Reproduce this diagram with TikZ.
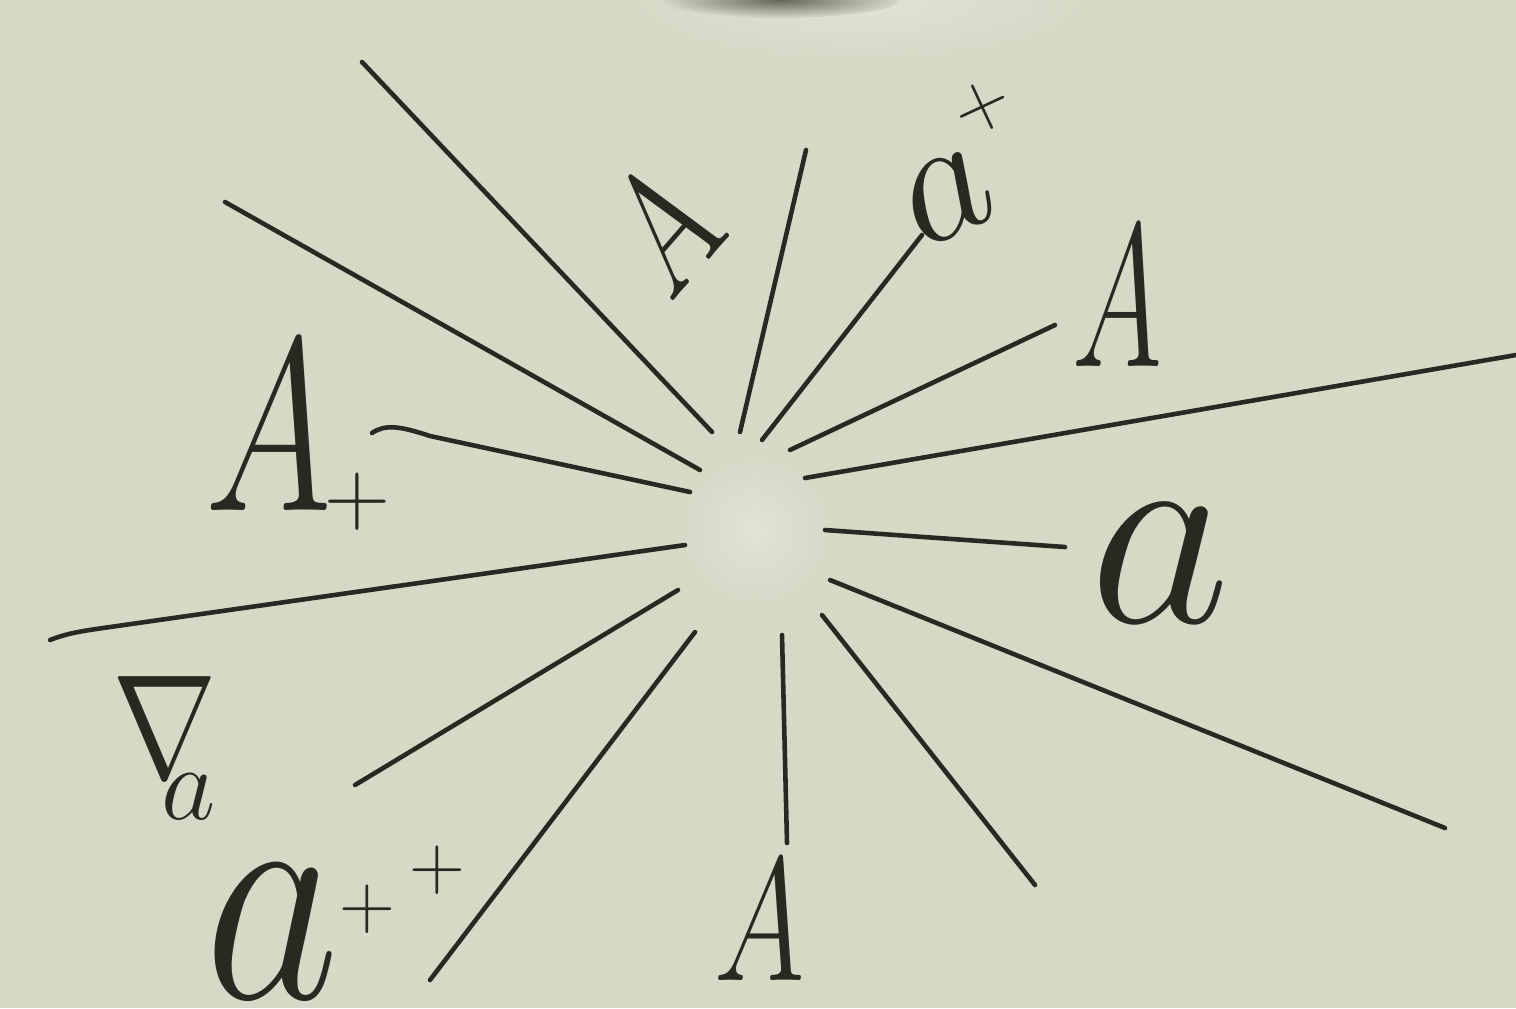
\RequirePackage{fix-cm}
\documentclass[tikz,border=0pt]{standalone}
\usepackage{graphicx}
\usepackage{xcolor}
\definecolor{bg}{RGB}{213,217,198}
\definecolor{bglight}{RGB}{226,228,212}
\definecolor{ink}{RGB}{38,42,32}
\newcommand\fsz[2]{{\fontsize{#1}{#1}\selectfont #2}}
\newcommand\narrowA[2]{\scalebox{#2}[1]{\fsz{#1}{$A$}}}
\begin{document}
\begin{tikzpicture}[x=0.01cm,y=-0.01cm]
\tikzset{
  ray/.style={draw=ink,line width=1.3pt,line cap=round},
  lab/.style={text=ink,inner sep=0pt}
}
\fill[bg] (0,0) rectangle (1516,1008);
\useasboundingbox (0,0) rectangle (1516,1008);
% background marks
\shade[inner color=bglight,outer color=bg] (860,0) ellipse [x radius=230,y radius=60];
\shade[inner color=ink!65!bg,outer color=bg] (780,0) ellipse [x radius=120,y radius=18];
\shade[inner color=bglight,outer color=bg] (755,530) circle [radius=75];
% rays
\draw[ray] (362,62) -- (712,432);
\draw[ray] (225,202) -- (700,470);
\draw[ray] (372,433) .. controls (385,424) and (400,426) .. (430,436) -- (690,492);
\draw[ray] (50,640) .. controls (70,632) and (90,630) .. (110,627) -- (685,545);
\draw[ray] (355,785) -- (678,590);
\draw[ray] (430,980) -- (695,632);
\draw[ray] (782,635) -- (787,843);
\draw[ray] (822,615) -- (1035,885);
\draw[ray] (830,580) -- (1445,828);
\draw[ray] (825,530) -- (1065,547);
\draw[ray] (805,478) -- (1516,355);
\draw[ray] (790,450) -- (1055,325);
\draw[ray] (762,440) -- (922,235);
\draw[ray] (740,432) -- (806,150);
% labels
\node[lab,rotate=49] (A1) at (660,232) {\narrowA{46}{0.8}};
\node[lab,rotate=25] (ap) at (960,162) {\fsz{50}{$a$}\kern-1pt\raisebox{24pt}{\fsz{22}{$+$}}};
\node[lab] (A2) at (1117,297) {\narrowA{58}{0.6}};
\node[lab] (a1) at (1160,563) {\fsz{78}{$a$}};
\node[lab] (A3) at (760,920) {\narrowA{50}{0.7}};
\node[lab] (app) at (335,922) {\scalebox{0.85}[1]{\fsz{88}{$a$}}\kern0pt\raisebox{20pt}{\fsz{22}{$+$}}\kern4pt\raisebox{31pt}{\fsz{22}{$+$}}};
\node[lab,anchor=north west] (na) at (112,676) {\scalebox{0.85}[1]{\fsz{42}{$\nabla$}}\kern-16pt\raisebox{-12pt}{\fsz{30}{$a$}}};
\node[lab] (Ap) at (298,436) {\narrowA{70}{0.7}\kern-2pt\raisebox{-4pt}{\fsz{26}{$+$}}};
\end{tikzpicture}
\end{document}
